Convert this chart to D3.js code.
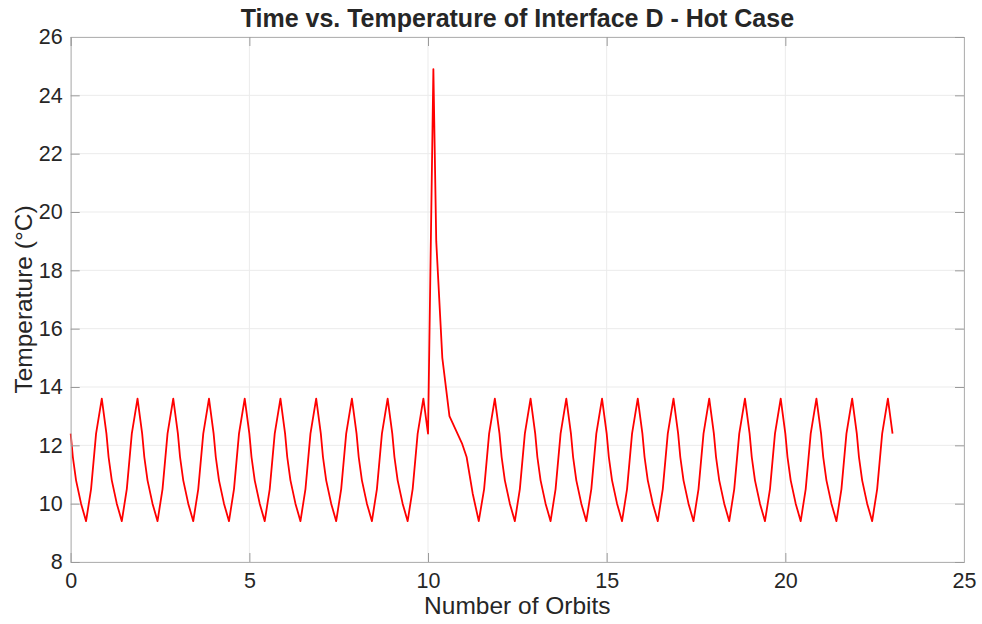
<!DOCTYPE html>
<html>
<head>
<meta charset="utf-8">
<script src="https://cdn.jsdelivr.net/npm/d3@7"></script>
<style>
  body { margin: 0; background: #fff; }
  text { font-family: "Liberation Sans", Arial, Helvetica, sans-serif; fill: #262626; }
</style>
</head>
<body>
<svg id="chart" width="982" height="624"></svg>
<script>
// orbit number (x) and temperature in deg C (y)
var orbitTime = [
  0, 0.06, 0.15, 0.29, 0.43, 0.57, 0.71, 0.87,
  1, 1.06, 1.15, 1.29, 1.43, 1.57, 1.71, 1.87,
  2, 2.06, 2.15, 2.29, 2.43, 2.57, 2.71, 2.87,
  3, 3.06, 3.15, 3.29, 3.43, 3.57, 3.71, 3.87,
  4, 4.06, 4.15, 4.29, 4.43, 4.57, 4.71, 4.87,
  5, 5.06, 5.15, 5.29, 5.43, 5.57, 5.71, 5.87,
  6, 6.06, 6.15, 6.29, 6.43, 6.57, 6.71, 6.87,
  7, 7.06, 7.15, 7.29, 7.43, 7.57, 7.71, 7.87,
  8, 8.06, 8.15, 8.29, 8.43, 8.57, 8.71, 8.87,
  9, 9.06, 9.15, 9.29, 9.43, 9.57, 9.71, 9.87,
  10, 10.15, 10.23, 10.4, 10.6, 10.95, 11.08,
  11.25, 11.42, 11.57, 11.71, 11.87,
  12, 12.06, 12.15, 12.29, 12.43, 12.57, 12.71, 12.87,
  13, 13.06, 13.15, 13.29, 13.43, 13.57, 13.71, 13.87,
  14, 14.06, 14.15, 14.29, 14.43, 14.57, 14.71, 14.87,
  15, 15.06, 15.15, 15.29, 15.43, 15.57, 15.71, 15.87,
  16, 16.06, 16.15, 16.29, 16.43, 16.57, 16.71, 16.87,
  17, 17.06, 17.15, 17.29, 17.43, 17.57, 17.71, 17.87,
  18, 18.06, 18.15, 18.29, 18.43, 18.57, 18.71, 18.87,
  19, 19.06, 19.15, 19.29, 19.43, 19.57, 19.71, 19.87,
  20, 20.06, 20.15, 20.29, 20.43, 20.57, 20.71, 20.87,
  21, 21.06, 21.15, 21.29, 21.43, 21.57, 21.71, 21.87,
  22, 22.06, 22.15, 22.29, 22.43, 22.57, 22.71, 22.87,
  23
];
var temperature = [
  12.4, 11.6, 10.8, 10.0, 9.4, 10.5, 12.4, 13.6,
  12.4, 11.6, 10.8, 10.0, 9.4, 10.5, 12.4, 13.6,
  12.4, 11.6, 10.8, 10.0, 9.4, 10.5, 12.4, 13.6,
  12.4, 11.6, 10.8, 10.0, 9.4, 10.5, 12.4, 13.6,
  12.4, 11.6, 10.8, 10.0, 9.4, 10.5, 12.4, 13.6,
  12.4, 11.6, 10.8, 10.0, 9.4, 10.5, 12.4, 13.6,
  12.4, 11.6, 10.8, 10.0, 9.4, 10.5, 12.4, 13.6,
  12.4, 11.6, 10.8, 10.0, 9.4, 10.5, 12.4, 13.6,
  12.4, 11.6, 10.8, 10.0, 9.4, 10.5, 12.4, 13.6,
  12.4, 11.6, 10.8, 10.0, 9.4, 10.5, 12.4, 13.6,
  12.4, 24.9, 19.0, 15.0, 13.0, 12.07, 11.6,
  10.35, 9.4, 10.5, 12.4, 13.6,
  12.4, 11.6, 10.8, 10.0, 9.4, 10.5, 12.4, 13.6,
  12.4, 11.6, 10.8, 10.0, 9.4, 10.5, 12.4, 13.6,
  12.4, 11.6, 10.8, 10.0, 9.4, 10.5, 12.4, 13.6,
  12.4, 11.6, 10.8, 10.0, 9.4, 10.5, 12.4, 13.6,
  12.4, 11.6, 10.8, 10.0, 9.4, 10.5, 12.4, 13.6,
  12.4, 11.6, 10.8, 10.0, 9.4, 10.5, 12.4, 13.6,
  12.4, 11.6, 10.8, 10.0, 9.4, 10.5, 12.4, 13.6,
  12.4, 11.6, 10.8, 10.0, 9.4, 10.5, 12.4, 13.6,
  12.4, 11.6, 10.8, 10.0, 9.4, 10.5, 12.4, 13.6,
  12.4, 11.6, 10.8, 10.0, 9.4, 10.5, 12.4, 13.6,
  12.4, 11.6, 10.8, 10.0, 9.4, 10.5, 12.4, 13.6,
  12.4
];
var xTicks = [0, 5, 10, 15, 20, 25];
var yTicks = [8, 10, 12, 14, 16, 18, 20, 22, 24, 26];

var margin = {left: 70.7, right: 18, top: 37, bottom: 62};
var W = 982, H = 624;
var svg = d3.select('#chart');

var x = d3.scaleLinear().domain([0, 25]).range([margin.left, W - margin.right]);
var y = d3.scaleLinear().domain([8, 26]).range([H - margin.bottom, margin.top]);

// grid
var grid = svg.append('g').attr('stroke', '#ebebeb').attr('stroke-width', 1);
grid.selectAll('.gx').data(xTicks).enter().append('line')
  .attr('x1', d => x(d)).attr('x2', d => x(d))
  .attr('y1', y(8)).attr('y2', y(26));
grid.selectAll('.gy').data(yTicks).enter().append('line')
  .attr('y1', d => y(d)).attr('y2', d => y(d))
  .attr('x1', x(0)).attr('x2', x(25));

// data line
var pts = orbitTime.map((t, i) => [t, temperature[i]]);
svg.append('path')
  .datum(pts)
  .attr('fill', 'none')
  .attr('stroke', '#ff0000')
  .attr('stroke-width', 1.8)
  .attr('stroke-linejoin', 'round')
  .attr('d', d3.line().x(d => x(d[0])).y(d => y(d[1])));

// axes (ticks pointing inward, box on all sides)
var tickLen = 9;
var xAxis = svg.append('g').attr('transform', 'translate(0,' + y(8) + ')')
  .call(d3.axisBottom(x).tickValues(xTicks).tickSize(-tickLen).tickPadding(11));
var yAxis = svg.append('g').attr('transform', 'translate(' + x(0) + ',0)')
  .call(d3.axisLeft(y).tickValues(yTicks).tickSize(-tickLen).tickPadding(8));
var xTop = svg.append('g').attr('transform', 'translate(0,' + y(26) + ')')
  .call(d3.axisTop(x).tickValues(xTicks).tickSize(-tickLen).tickFormat(''));
var yRight = svg.append('g').attr('transform', 'translate(' + x(25) + ',0)')
  .call(d3.axisRight(y).tickValues(yTicks).tickSize(-tickLen).tickFormat(''));

[xAxis, yAxis, xTop, yRight].forEach(function (a) {
  a.select('.domain').attr('stroke', '#b3b3b3').attr('stroke-width', 1);
  a.selectAll('.tick line').attr('stroke', '#9a9a9a');
  a.selectAll('.tick text')
    .style('font-family', '"Liberation Sans", Arial, sans-serif')
    .style('font-size', '21.5px').attr('fill', '#262626');
});

// labels
svg.append('text')
  .attr('x', (x(0) + x(25)) / 2).attr('y', 27)
  .attr('text-anchor', 'middle')
  .style('font-size', '25px').style('font-weight', 'bold')
  .attr('fill', '#000')
  .text('Time vs. Temperature of Interface D - Hot Case');

svg.append('text')
  .attr('x', (x(0) + x(25)) / 2).attr('y', 614)
  .attr('text-anchor', 'middle')
  .style('font-size', '24.5px')
  .text('Number of Orbits');

svg.append('text')
  .attr('transform', 'translate(32,' + (y(8) + y(26)) / 2 + ') rotate(-90)')
  .attr('text-anchor', 'middle')
  .style('font-size', '24.5px')
  .text('Temperature (°C)');
</script>
</body>
</html>
